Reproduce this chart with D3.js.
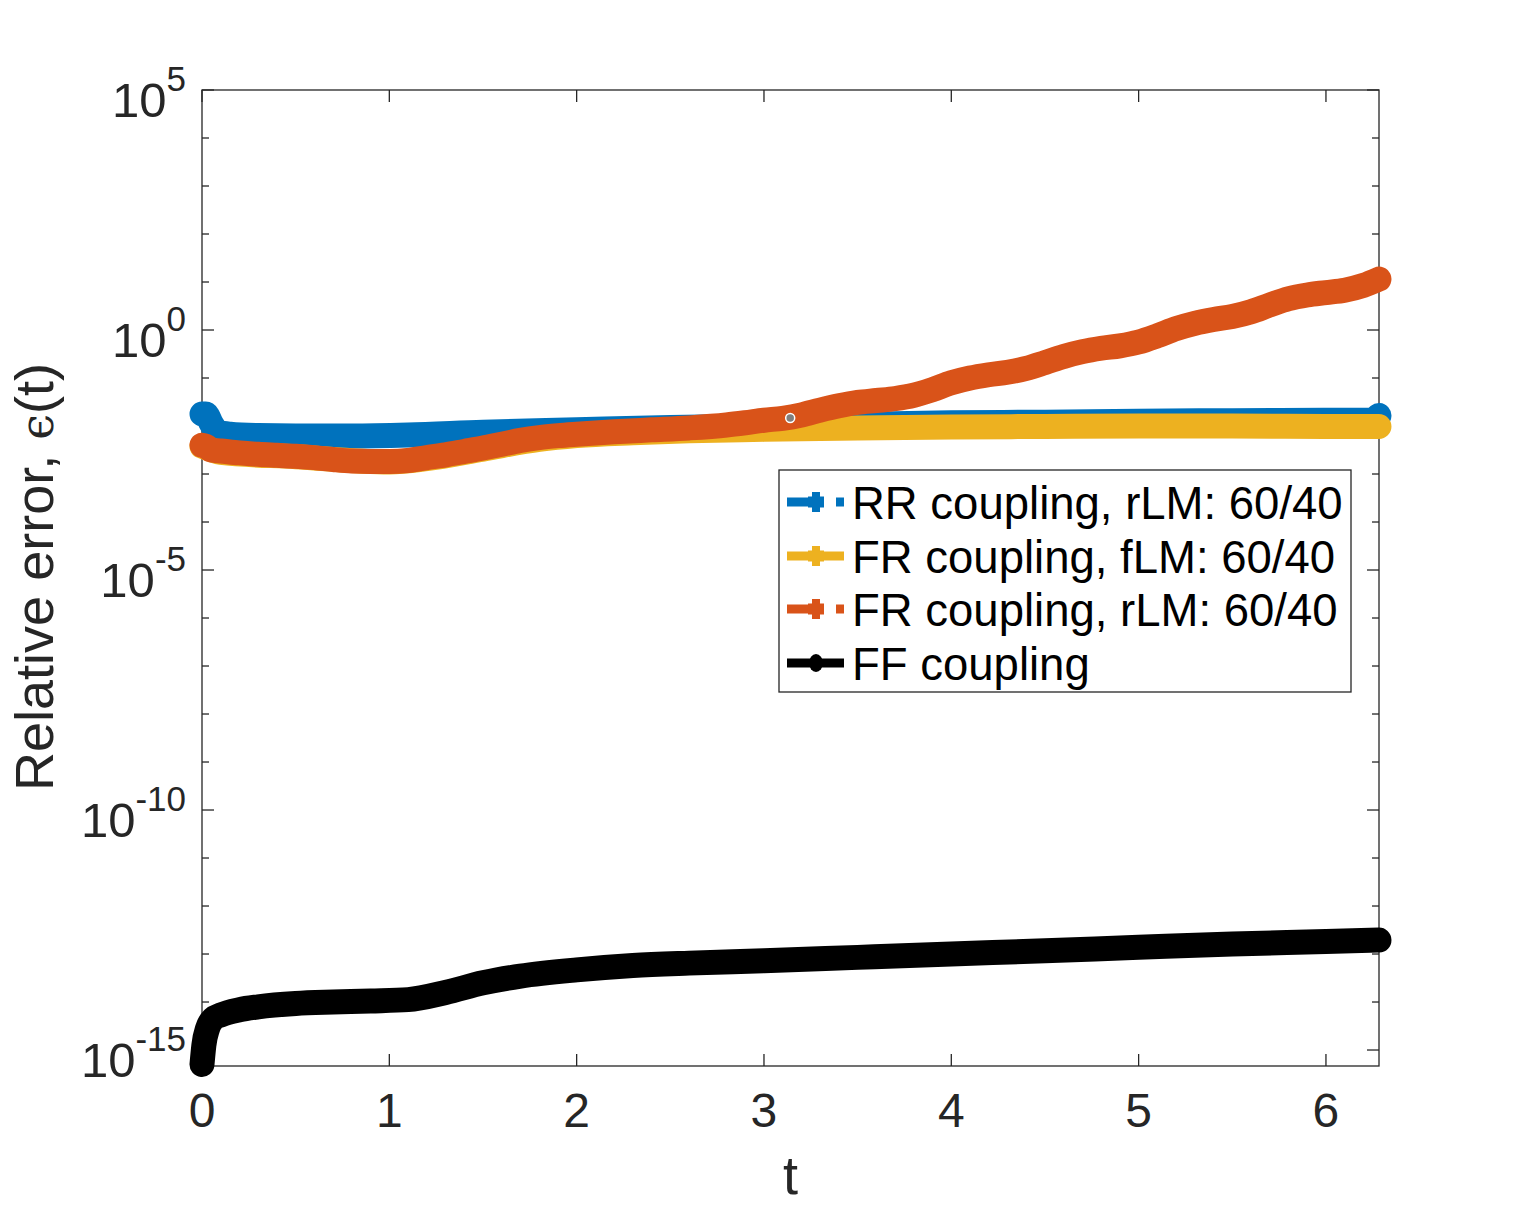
<!DOCTYPE html>
<html>
<head>
<meta charset="utf-8">
<script src="https://cdn.jsdelivr.net/npm/d3@7"></script>
<style>
  body { margin: 0; background: #fff; }
  text { font-family: "Liberation Sans", Arial, sans-serif; }
</style>
</head>
<body>
<div id="chart"></div>
<script>
// RR coupling, rLM 60/40
var rrT   = [0, 0.02, 0.05, 0.08, 0.15, 0.3, 0.5, 0.8, 1.1, 1.5, 2.0, 2.5, 3.0, 3.5, 4.0, 4.5, 5.0, 5.5, 6.0, 6.24, 6.283];
var rrErr = [1.78e-2, 1.78e-2, 1.12e-2, 7.59e-3, 6.76e-3, 6.31e-3, 6.17e-3, 6.17e-3, 6.46e-3, 7.41e-3, 8.32e-3, 9.33e-3, 1.0e-2, 1.07e-2, 1.17e-2, 1.2e-2, 1.26e-2, 1.29e-2, 1.32e-2, 1.32e-2, 1.66e-2];

// FR coupling, fLM 60/40
var frfT   = [0, 0.1, 0.5, 1.0, 1.2, 1.5, 1.8, 2.0, 2.3, 2.6, 3.0, 3.5, 4.0, 4.5, 5.0, 5.5, 6.0, 6.283];
var frfErr = [3.8e-3, 2.82e-3, 2.29e-3, 1.78e-3, 2.09e-3, 3.31e-3, 5.25e-3, 6.31e-3, 7.24e-3, 7.94e-3, 8.51e-3, 9.12e-3, 9.55e-3, 9.77e-3, 1.0e-2, 1.0e-2, 9.77e-3, 9.77e-3];

// FR coupling, rLM 60/40
var frrT   = [0, 0.02, 0.05, 0.1, 0.2, 0.3, 0.4, 0.5, 0.6, 0.7, 0.8, 0.9, 1.0, 1.1, 1.2, 1.3, 1.4, 1.5, 1.6, 1.7, 1.8, 1.9, 2.0, 2.2, 2.4, 2.6, 2.8, 2.9, 3.0, 3.1, 3.2, 3.3, 3.4, 3.5, 3.6, 3.7, 3.8, 3.9, 4.0, 4.1, 4.2, 4.3, 4.4, 4.5, 4.6, 4.7, 4.8, 4.9, 5.0, 5.1, 5.2, 5.3, 5.4, 5.5, 5.6, 5.7, 5.8, 5.9, 6.0, 6.1, 6.2, 6.283];
var frrErr = [3.98e-3, 3.8e-3, 3.16e-3, 3.02e-3, 2.75e-3, 2.57e-3, 2.45e-3, 2.34e-3, 2.19e-3, 2.0e-3, 1.86e-3, 1.82e-3, 1.82e-3, 1.91e-3, 2.19e-3, 2.51e-3, 2.95e-3, 3.47e-3, 4.17e-3, 5.01e-3, 5.75e-3, 6.31e-3, 6.76e-3, 7.59e-3, 8.32e-3, 9.12e-3, 1.05e-2, 1.17e-2, 1.32e-2, 1.45e-2, 1.7e-2, 2.14e-2, 2.63e-2, 3.09e-2, 3.39e-2, 3.72e-2, 4.37e-2, 5.75e-2, 7.94e-2, 1.0e-1, 1.17e-1, 1.32e-1, 1.58e-1, 2.09e-1, 2.82e-1, 3.55e-1, 4.17e-1, 4.68e-1, 5.62e-1, 7.59e-1, 1.07, 1.38, 1.66, 1.91, 2.4, 3.31, 4.47, 5.37, 6.03, 6.76, 8.51, 11.5];

// FF coupling
var ffT   = [0, 0.01, 0.03, 0.06, 0.1, 0.2, 0.3, 0.5, 0.7, 0.9, 1.1, 1.3, 1.5, 1.7, 2.0, 2.3, 2.6, 3.0, 3.5, 4.0, 4.5, 5.0, 5.5, 6.0, 6.283];
var ffErr = [5.0e-16, 1.26e-15, 2.82e-15, 4.47e-15, 5.37e-15, 6.92e-15, 7.94e-15, 9.33e-15, 1.0e-14, 1.05e-14, 1.12e-14, 1.58e-14, 2.51e-14, 3.47e-14, 4.68e-14, 5.75e-14, 6.46e-14, 7.24e-14, 8.51e-14, 1.0e-13, 1.17e-13, 1.38e-13, 1.62e-13, 1.82e-13, 1.95e-13];

var seriesNames  = ["RR coupling, rLM: 60/40", "FR coupling, fLM: 60/40", "FR coupling, rLM: 60/40", "FF coupling"];
var seriesColors = ["#0072BD", "#EDB120", "#D95319", "#000000"];
var xTicks = [0, 1, 2, 3, 4, 5, 6];
var yMajorExp = [5, 0, -5, -10, -15];
var yMinorExp = [4, 3, 2, 1, -1, -2, -3, -4, -6, -7, -8, -9, -11, -12, -13, -14];

// data tip marker sitting on the FR rLM curve
var tipT = [3.14], tipErr = [1.47e-2];

var drawChart = function(){
    var W = 1524, H = 1206;
    var pLeft = 202, pRight = 1379, pTop = 90, pBottom = 1066;
    var axisCol = "#262626";

    var x = d3.scaleLinear().domain([0, 2 * Math.PI]).range([pLeft, pRight]);
    var y = d3.scaleLog().domain([Math.pow(10, -15.333), 1e5]).range([pBottom, pTop]);

    var svg = d3.select("#chart").append("svg")
        .attr("width", W)
        .attr("height", H);

    svg.append("rect").attr("width", W).attr("height", H).attr("fill", "#fff");

    // ticks (inward, mirrored on all sides)
    var tk = svg.append("g").attr("stroke", axisCol).attr("stroke-width", 1.3);
    xTicks.forEach(function(v){
        tk.append("line").attr("x1", x(v)).attr("x2", x(v)).attr("y1", pBottom).attr("y2", pBottom - 12);
        tk.append("line").attr("x1", x(v)).attr("x2", x(v)).attr("y1", pTop).attr("y2", pTop + 12);
    });
    yMajorExp.forEach(function(e){
        var yy = y(Math.pow(10, e));
        tk.append("line").attr("x1", pLeft).attr("x2", pLeft + 12).attr("y1", yy).attr("y2", yy);
        tk.append("line").attr("x1", pRight).attr("x2", pRight - 12).attr("y1", yy).attr("y2", yy);
    });
    yMinorExp.forEach(function(e){
        var yy = y(Math.pow(10, e));
        tk.append("line").attr("x1", pLeft).attr("x2", pLeft + 7).attr("y1", yy).attr("y2", yy);
        tk.append("line").attr("x1", pRight).attr("x2", pRight - 7).attr("y1", yy).attr("y2", yy);
    });

    // box
    svg.append("rect")
        .attr("x", pLeft).attr("y", pTop)
        .attr("width", pRight - pLeft).attr("height", pBottom - pTop)
        .attr("fill", "none").attr("stroke", axisCol).attr("stroke-width", 1.3);

    // tick labels
    svg.append("g").selectAll("text").data(xTicks).enter().append("text")
        .attr("x", function(d){ return x(d); })
        .attr("y", 1127)
        .attr("text-anchor", "middle")
        .attr("font-size", 48)
        .attr("fill", axisCol)
        .text(function(d){ return d; });

    var yl = svg.append("g").selectAll("text").data(yMajorExp).enter().append("text")
        .attr("x", 186)
        .attr("y", function(d){ return y(Math.pow(10, d)) + 27; })
        .attr("text-anchor", "end")
        .attr("font-size", 49)
        .attr("fill", axisCol);
    yl.append("tspan").text("10");
    yl.append("tspan").attr("dy", -26).attr("font-size", 35).text(function(d){ return d; });

    // axis titles
    svg.append("text")
        .attr("x", x(Math.PI)).attr("y", 1194)
        .attr("text-anchor", "middle")
        .attr("font-size", 54)
        .attr("fill", axisCol)
        .text("t");

    var yt = svg.append("text")
        .attr("transform", "translate(53,577) rotate(-90)")
        .attr("text-anchor", "middle")
        .attr("font-size", 54)
        .attr("fill", axisCol);
    yt.append("tspan").text("Relative error, ");
    yt.append("tspan").attr("font-family", "'DejaVu Serif', serif").attr("font-size", 46).text("\u03f5");
    yt.append("tspan").text("(t)");

    // curves
    var line = d3.line()
        .x(function(d){ return x(d[0]); })
        .y(function(d){ return y(d[1]); })
        .curve(d3.curveMonotoneX);

    var allT = [rrT, frfT, frrT, ffT];
    var allE = [rrErr, frfErr, frrErr, ffErr];

    var curves = svg.append("g");
    allT.forEach(function(ts, i){
        var pts = ts.map(function(t, j){ return [t, allE[i][j]]; });
        curves.append("path")
            .attr("d", line(pts))
            .attr("fill", "none")
            .attr("stroke", seriesColors[i])
            .attr("stroke-width", 25)
            .attr("stroke-linejoin", "round")
            .attr("stroke-linecap", "round");
    });

    svg.append("g").selectAll("circle").data(tipT).enter().append("circle")
        .attr("cx", function(d){ return x(d); })
        .attr("cy", function(d, i){ return y(tipErr[i]); })
        .attr("r", 4.5)
        .attr("fill", "#7f7f7f")
        .attr("stroke", "#fff")
        .attr("stroke-width", 1.5);

    // legend
    var lg = svg.append("g");
    lg.append("rect")
        .attr("x", 779).attr("y", 470)
        .attr("width", 572).attr("height", 222)
        .attr("fill", "#fff").attr("stroke", axisCol).attr("stroke-width", 1.3);

    var rowY = [502, 556, 609, 663];
    seriesNames.forEach(function(name, i){
        var cy = rowY[i], col = seriesColors[i];
        var dashed = (i == 0 || i == 2);
        if (dashed){
            lg.append("rect").attr("x", 787).attr("y", cy - 4.5).attr("width", 22).attr("height", 9).attr("fill", col);
            lg.append("rect").attr("x", 836).attr("y", cy - 4.5).attr("width", 8).attr("height", 9).attr("fill", col);
        } else {
            lg.append("rect").attr("x", 787).attr("y", cy - 4.5).attr("width", 57).attr("height", 9).attr("fill", col);
        }
        if (i == 3){
            lg.append("ellipse").attr("cx", 816).attr("cy", cy).attr("rx", 7).attr("ry", 9).attr("fill", col);
        } else {
            lg.append("rect").attr("x", 808).attr("y", cy - 5.5).attr("width", 16).attr("height", 11).attr("fill", col);
            lg.append("rect").attr("x", 812).attr("y", cy - 10).attr("width", 8).attr("height", 20).attr("fill", col);
        }
        lg.append("text")
            .attr("x", 852).attr("y", cy + 17)
            .attr("font-size", 45.5)
            .attr("fill", "#000")
            .text(name);
    });
};

drawChart();
</script>
</body>
</html>
